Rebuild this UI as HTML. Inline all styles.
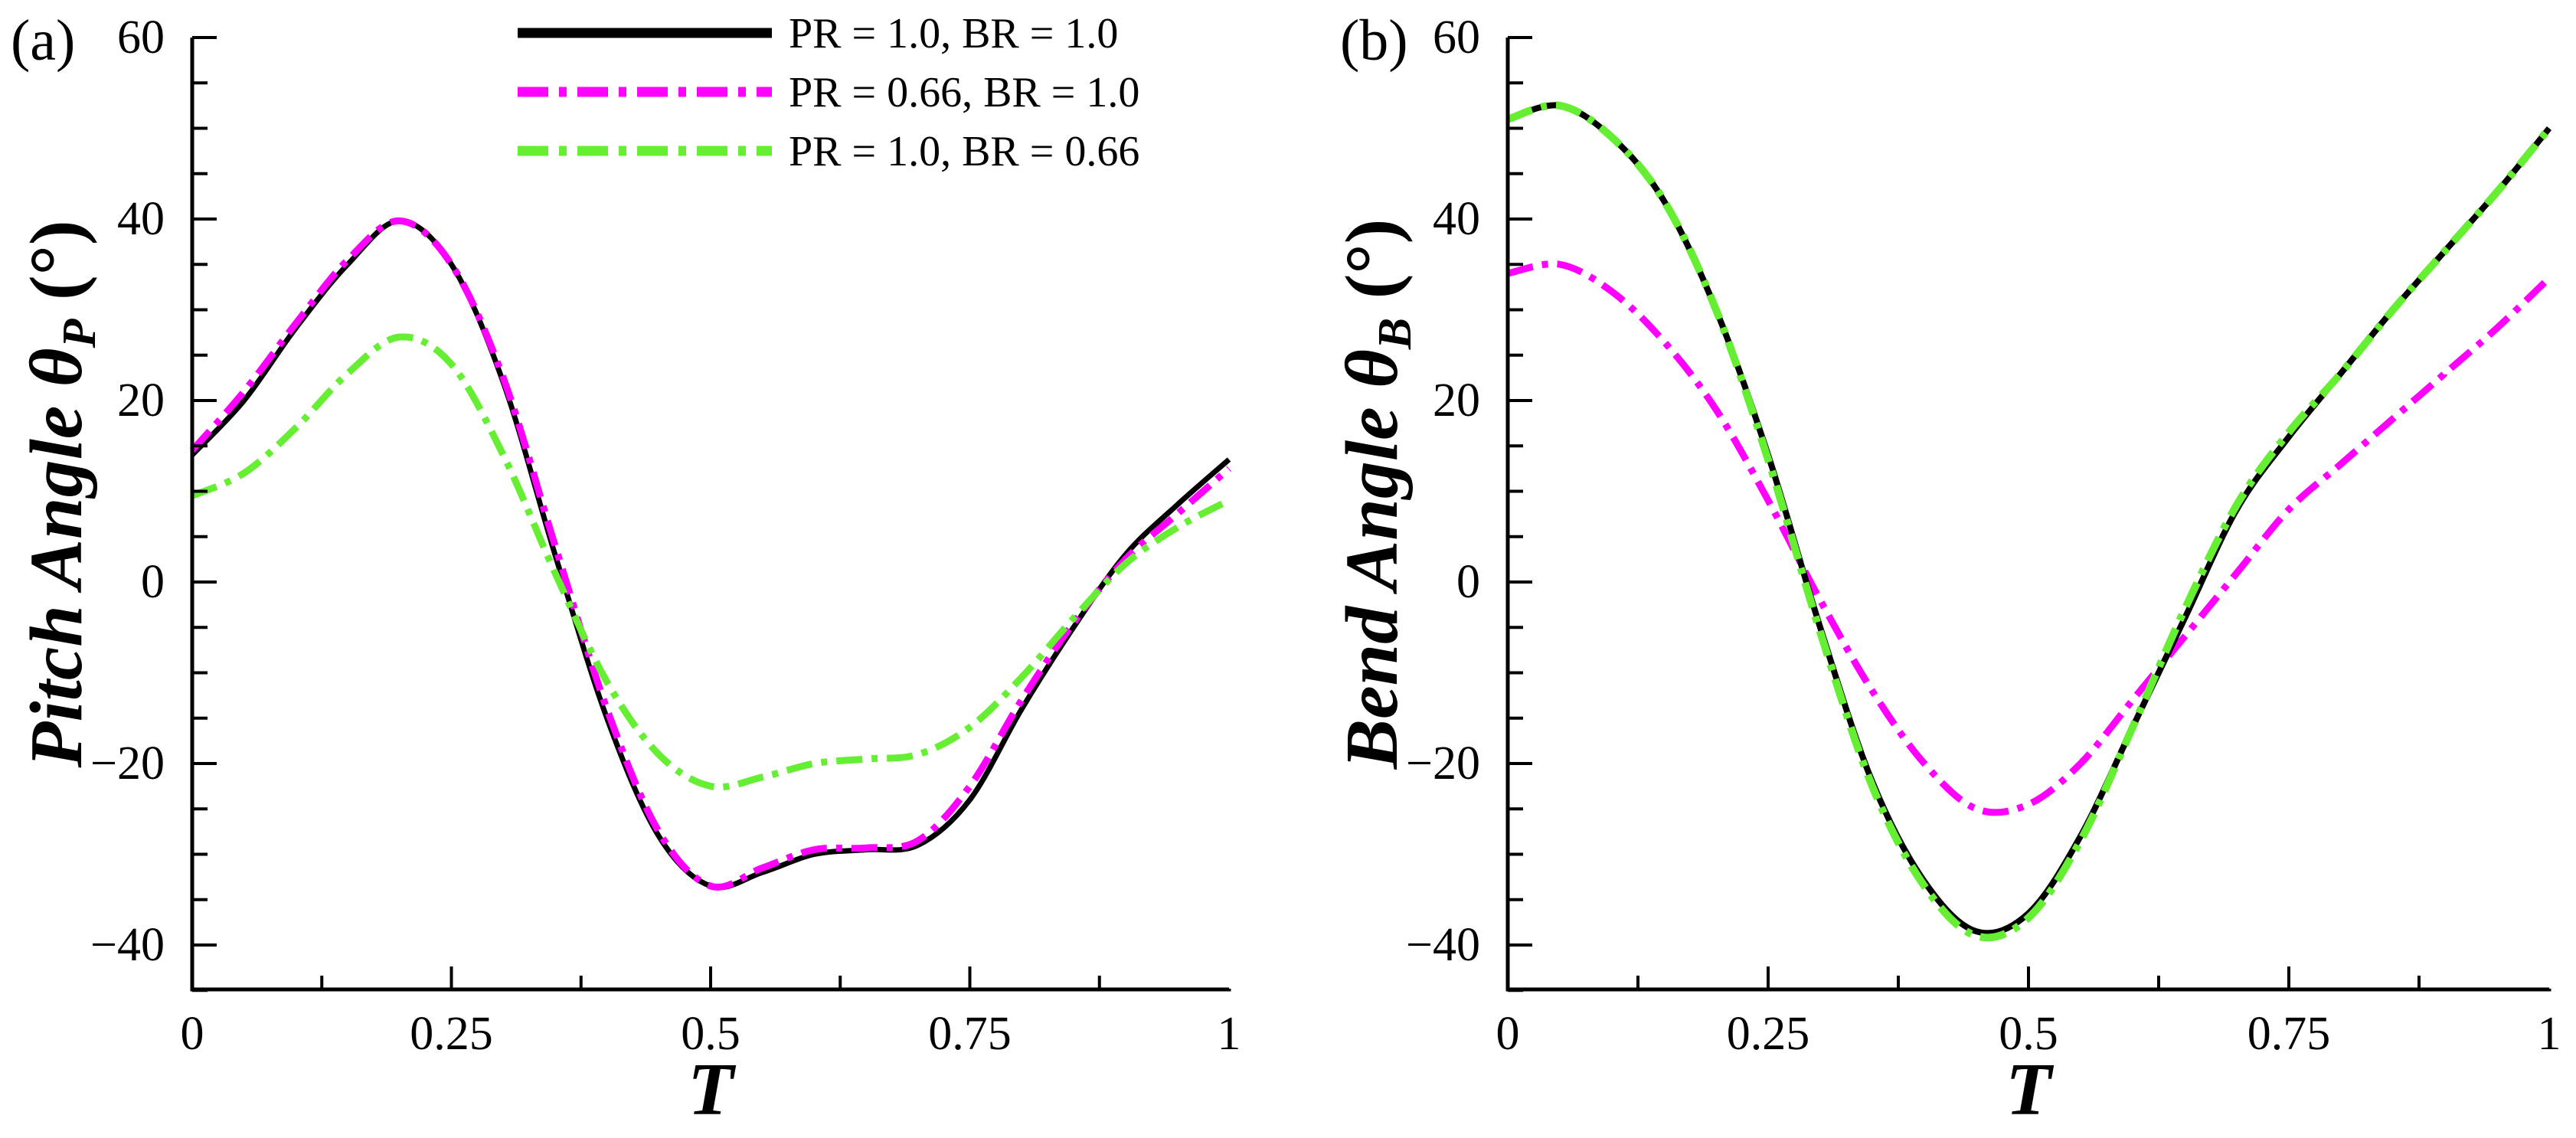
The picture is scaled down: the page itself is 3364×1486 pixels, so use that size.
<!DOCTYPE html>
<html><head><meta charset="utf-8"><style>
body{margin:0;background:#fff}
svg text{font-family:"Liberation Serif",serif}
</style></head><body>
<svg id="c" width="3364" height="1481" xmlns="http://www.w3.org/2000/svg"></svg>
<script>
const tVals=[0,0.05,0.1,0.15,0.2,0.25,0.3,0.35,0.4,0.45,0.5,0.55,0.6,0.65,0.7,0.75,0.8,0.85,0.9,0.95,1];
const pitchBlack=[14,20,28,35,39.8,35,22,3,-15,-28,-33.5,-32,-30,-29.5,-29,-24,-14,-5,3,8.5,13.5];
const pitchMagenta=[14.5,21,28.5,35.5,39.8,35,22.5,4,-14,-27.5,-33.5,-31.5,-29.5,-29.3,-28.5,-22.5,-13,-4.5,2.5,7.5,12.5];
const pitchGreen=[9.5,12,17,23,27,24,14,1,-11,-19,-22.5,-21.5,-20,-19.5,-19,-16,-10.5,-4,2,6,9];
const bendBlack=[51,52.5,49,42,30,14,-5,-22,-33,-38.5,-36.5,-28,-16,-4,8,16,23,30,36.5,43,50];
const bendGreen=[51,52.5,49,42,30,13.5,-5.5,-22.5,-33.5,-39,-37,-28.5,-16,-3,8.5,16.5,23,30,36.5,43,50];
const bendMagenta=[34,35,32,26.5,19,9,-2,-12,-20,-25,-24.5,-20,-13,-6,1,8,13,18,23,28,33.5];
const xTicks=[0,0.25,0.5,0.75,1];
const xTickLabels=["0","0.25","0.5","0.75","1"];
const yTicks=[-40,-20,0,20,40,60];
const legendLabels=["PR = 1.0, BR = 1.0","PR = 0.66, BR = 1.0","PR = 1.0, BR = 0.66"];

const svg=document.getElementById('c');
const NS="http://www.w3.org/2000/svg";
function mk(tag,attrs,parent){const e=document.createElementNS(NS,tag);for(const k in attrs)e.setAttribute(k,attrs[k]);(parent||svg).appendChild(e);return e;}
const yTop=49,yBot=1234;
const axisBottom=1292;
function Y(v){return yTop+(60-v)*(yBot-yTop)/100;}
function pathFrom(xs,ys,X){
  const p=xs.map((t,i)=>[X(t),Y(ys[i])]);
  let d="M"+p[0][0]+","+p[0][1];
  for(let i=0;i<p.length-1;i++){
    const p0=p[Math.max(0,i-1)],p1=p[i],p2=p[i+1],p3=p[Math.min(p.length-1,i+2)];
    const c1x=p1[0]+(p2[0]-p0[0])/6,c1y=p1[1]+(p2[1]-p0[1])/6;
    const c2x=p2[0]-(p3[0]-p1[0])/6,c2y=p2[1]-(p3[1]-p1[1])/6;
    d+=` C${c1x},${c1y} ${c2x},${c2y} ${p2[0]},${p2[1]}`;
  }
  return d;
}
function panel(name,x0,x1,letter,letterX,titleMain,sub,series){
  const g=mk('g',{});
  
  
  const X=t=>x0+t*(x1-x0);
  series.forEach(s=>{
    const p=mk('path',{d:pathFrom(tVals,s.data,X),fill:'none',stroke:s.color,'stroke-width':s.w,'stroke-dasharray':s.dash||'none','stroke-linejoin':'round'},g);
    
    
  });
  const ax=mk('path',{d:`M${x0},${yTop} V${axisBottom} H${x1} V${axisBottom-1}`,fill:'none',stroke:'#000','stroke-width':5},g);
  
  
  for(let v=-45;v<=60;v+=5){
    const major=v%20===0;
    mk('line',{x1:x0,x2:x0+(major?32:20),y1:Y(v),y2:Y(v),stroke:'#000','stroke-width':4},g);
  }
  for(let t=0.125;t<1;t+=0.125){
    const major=Math.abs(t*4-Math.round(t*4))<1e-6;
    mk('line',{x1:X(t),x2:X(t),y1:axisBottom,y2:axisBottom-(major?30:18),stroke:'#000','stroke-width':4},g);
  }
  yTicks.forEach(v=>{
    const tx=mk('text',{x:x0-36,y:Y(v)+20,'text-anchor':'end','font-size':62},g);
    tx.textContent=(v<0?"\u2212"+(-v):v);
    
    
  });
  xTicks.forEach((t,i)=>{
    const tx=mk('text',{x:X(t),y:1370,'text-anchor':'middle','font-size':62},g);
    tx.textContent=xTickLabels[i];
    
    
  });
  const xt=mk('text',{x:(x0+x1)/2,y:1455,'text-anchor':'middle','font-size':98,'font-weight':'bold','font-style':'italic'},g);
  xt.textContent="T";
  
  
  const yt=mk('text',{transform:`translate(${x0-145},645) rotate(-90)`,'text-anchor':'middle','font-size':98,'font-weight':'bold','font-style':'italic'},g);
  yt.innerHTML=titleMain+' θ<tspan font-size="62" dy="18">'+sub+'</tspan><tspan dy="-18" font-style="normal"> (°)</tspan>';
  
  
  const lb=mk('text',{x:letterX,y:78,'font-size':76},g);
  lb.textContent=letter;
  
  
  return X;
}
panel('panel-a-pitch',251,1605,'(a)',14,'Pitch Angle','P',[
  {name:'pitch-pr1-br1',data:pitchBlack,color:'#000',w:7},
  {name:'pitch-pr066-br1',data:pitchMagenta,color:'#ff00ff',w:9,dash:'34 12 8 12'},
  {name:'pitch-pr1-br066',data:pitchGreen,color:'#66ee33',w:9,dash:'34 12 8 12'}
]);
panel('panel-b-bend',1969,3329,'(b)',1750,'Bend Angle','B',[
  {name:'bend-pr066-br1',data:bendMagenta,color:'#ff00ff',w:9,dash:'34 12 8 12'},
  {name:'bend-pr1-br1',data:bendBlack,color:'#000',w:8},
  {name:'bend-pr1-br066',data:bendGreen,color:'#66ee33',w:10,dash:'34 12 8 12'}
]);
const lg=mk('g',{});


const lstyles=[{c:'#000',w:13,d:'none'},{c:'#ff00ff',w:13,d:'40 14 10 14'},{c:'#66ee33',w:13,d:'40 14 10 14'}];
legendLabels.forEach((l,i)=>{
  const y=43+i*77;
  const e=mk('g',{},lg);
  
  
  mk('line',{x1:676,x2:1008,y1:y,y2:y,stroke:lstyles[i].c,'stroke-width':lstyles[i].w,'stroke-dasharray':lstyles[i].d},e);
  const t=mk('text',{x:1030,y:y+19,'font-size':56},e);
  t.textContent=l;
});
</script>
</body></html>
